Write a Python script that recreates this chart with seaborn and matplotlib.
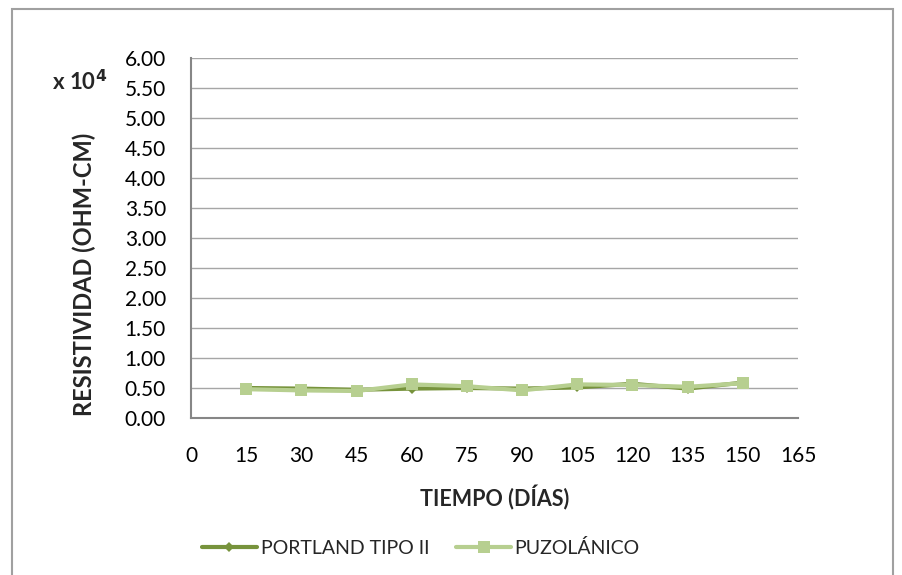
import matplotlib
matplotlib.use("Agg")
import matplotlib.pyplot as plt
import seaborn as sns
import pandas as pd
from matplotlib.patches import Rectangle

dias = [15, 30, 45, 60, 75, 90, 105, 120, 135, 150]
portland = [0.50, 0.49, 0.47, 0.49, 0.50, 0.49, 0.51, 0.57, 0.49, 0.59]
puzolanico = [0.48, 0.46, 0.45, 0.56, 0.53, 0.46, 0.56, 0.55, 0.52, 0.58]
series_names = ["PORTLAND TIPO II", "PUZOLÁNICO"]
x_ticks = list(range(0, 166, 15))
y_ticks = [i * 0.5 for i in range(13)]

sns.set_theme(style="white")
plt.rcParams['font.family'] = ['Lato', 'DejaVu Sans']

df = pd.DataFrame({
    "dias": dias * 2,
    "valor": portland + puzolanico,
    "serie": [series_names[0]] * len(dias) + [series_names[1]] * len(dias),
})

W, H = 902, 575
fig = plt.figure(figsize=(W / 100, H / 100), dpi=100)
ax = fig.add_axes([191 / W, 1 - 418 / H, (798 - 191) / W, (418 - 58) / H])

colors = {series_names[0]: "#77933C", series_names[1]: "#B7CF90"}
markers = {series_names[0]: "D", series_names[1]: "s"}
sizes = {series_names[0]: 5, series_names[1]: 9}
for name in series_names:
    sub = df[df.serie == name]
    sns.lineplot(data=sub, x="dias", y="valor", ax=ax, color=colors[name],
                 marker=markers[name], markersize=sizes[name], linewidth=3,
                 markeredgewidth=0, label=name, zorder=3 if name == series_names[0] else 4)

FS = 15
ax.set_xlim(0, 165)
ax.set_ylim(0, 6.0)
ax.set_xticks(x_ticks)
ax.set_xticklabels([str(v) for v in x_ticks])
ax.set_yticks(y_ticks)
ax.set_yticklabels([f"{v:.2f}" for v in y_ticks])
ax.tick_params(axis="both", labelsize=FS, colors="#000000", length=0)
ax.tick_params(axis="y", pad=18)
ax.tick_params(axis="x", pad=20)
ax.yaxis.grid(True, color="#A6A6A6", linewidth=1)
ax.xaxis.grid(False)
for s in ["top", "right"]:
    ax.spines[s].set_visible(False)
for s in ["left", "bottom"]:
    ax.spines[s].set_color("#868686")
    ax.spines[s].set_linewidth(1.5)

ax.set_xlabel("TIEMPO (DÍAS)", fontsize=15.5, fontweight="bold", labelpad=14)
ax.set_ylabel("RESISTIVIDAD (OHM-CM)", fontsize=17, fontweight="bold", va="center")
ax.yaxis.set_label_coords((84 - 191) / (798 - 191), (418 - 274) / 360)

fig.text(80 / W, 1 - 82 / H, r"x 10$^{\mathbf{4}}$", fontsize=16, fontweight="bold",
         ha="center", va="center")

leg = ax.legend(loc="center", bbox_to_anchor=(421 / W, 1 - 548 / H),
                bbox_transform=fig.transFigure, ncol=2, frameon=False,
                fontsize=14, handlelength=2.8, columnspacing=1.4, handletextpad=0.2)

fig.add_artist(Rectangle((12 / W, -0.01), (893 - 12) / W, (1 - 9 / H) + 0.01,
                         transform=fig.transFigure, fill=False,
                         edgecolor="#A0A0A0", linewidth=1.5))

fig.savefig("out.png", dpi=100)
